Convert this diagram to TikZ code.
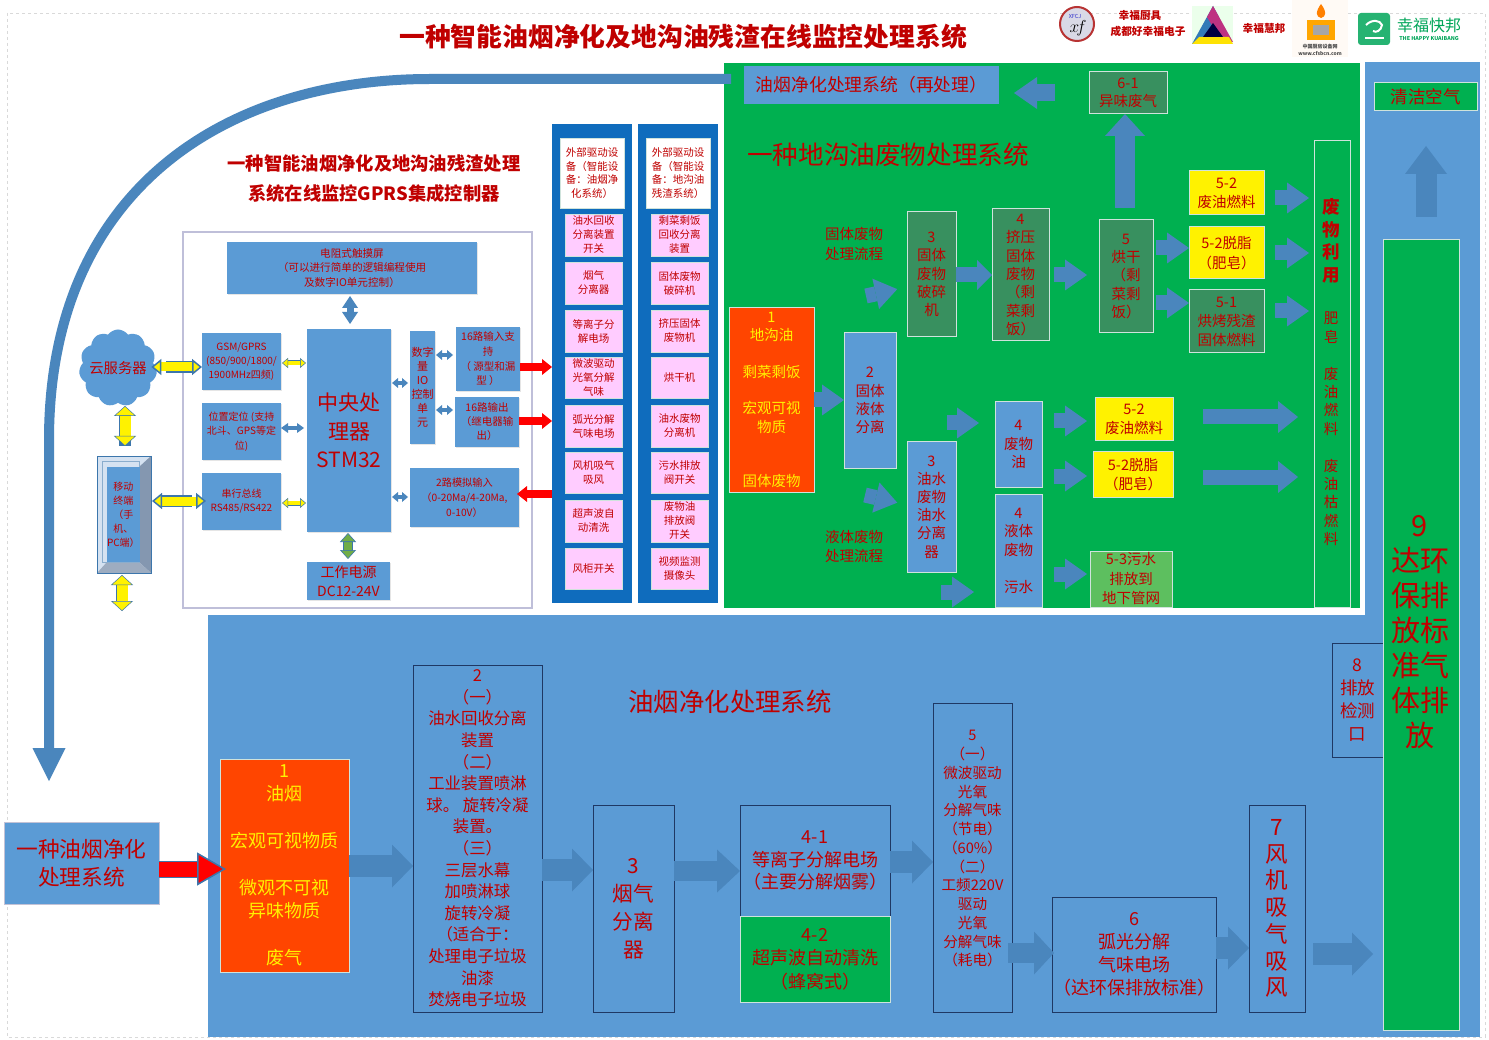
\documentclass[tikz,border=0pt]{standalone}
\usepackage{fontspec}
\setmainfont{Noto Sans CJK SC}
\usetikzlibrary{arrows.meta,shapes.symbols,shadows}
\definecolor{txtred}{HTML}{C00000}
\definecolor{panelblue}{HTML}{5B9BD5}
\definecolor{panelgreen}{HTML}{00B050}
\definecolor{darkgreen}{HTML}{38905F}
\definecolor{softgreen}{HTML}{5DBF5F}
\definecolor{orangered}{HTML}{FF4500}
\definecolor{navyline}{HTML}{1F3864}
\definecolor{paleline}{HTML}{CFE3DC}
\definecolor{arrowblue}{HTML}{4A86BD}
\definecolor{frameblue}{HTML}{3C76AC}
\definecolor{columnblue}{HTML}{0F6CBD}
\definecolor{pinkfill}{HTML}{FFCCFF}
\definecolor{bevellight}{HTML}{D5E2F1}
\definecolor{beveldark}{HTML}{8497B0}
\definecolor{powergreen}{HTML}{70AD47}
\tikzset{
  fs/.style 2 args={font=\fontsize{#1}{#2}\selectfont},
  fsb/.style 2 args={font=\fontsize{#1}{#2}\selectfont\bfseries},
  wh/.style 2 args={minimum width=#1,minimum height=#2},
  txt/.style={inner sep=0pt,outer sep=0pt,align=center,text=txtred},
  box/.style={txt,anchor=north west},
  panelbox/.style={box,fill=panelblue},
  ctrlbox/.style={box,fill=panelblue,drop shadow={shadow xshift=1pt,shadow yshift=-1pt,opacity=.2,fill=gray}},
  navybox/.style={box,draw=navyline,line width=1pt},
  darkbox/.style={box,fill=darkgreen,draw=paleline,line width=1pt},
  bluepalebox/.style={box,fill=panelblue,draw=paleline,line width=1pt},
  yellowbox/.style={box,fill=yellow,draw=paleline,line width=1pt},
  orangebox/.style={box,fill=orangered,draw=paleline,line width=1pt,text=yellow},
  pinkbox/.style={box,fill=pinkfill,draw=paleline,line width=.5pt,fs={10.5}{14}},
  whitebox/.style={box,fill=white,draw=paleline,line width=.5pt,fs={10.5}{13.5}},
  barrow/.style n args={3}{draw=arrowblue,line width=#1,-{Triangle[length=#3pt,width=#2pt,line width=0pt]}},
  dbarrow/.style n args={3}{draw=arrowblue,line width=#1,{Triangle[length=#3pt,width=#2pt,line width=0pt]}-{Triangle[length=#3pt,width=#2pt,line width=0pt]}},
  hollow/.style n args={5}{draw=#1,line width=#2,
    {Triangle[length=#4pt,width=#3pt,fill=#1,color=frameblue,line width=#5pt]}-{Triangle[length=#4pt,width=#3pt,fill=#1,color=frameblue,line width=#5pt]},
    preaction={draw=frameblue,line width=#2+2*#5,-,shorten >=#4pt,shorten <=#4pt}},
  bigarrow/.style={barrow={22}{43}{21}},
  greenarrow/.style={barrow={15}{31}{22}},
}
\begin{document}
\begin{tikzpicture}[x=1pt,y=-1pt]
  \useasboundingbox (0,0) rectangle (1489,1040);
  \fill[white] (0,0) rectangle (1489,1040);
  \draw[gray!30,dashed] (7,13) rectangle (1485,1037);

  \node[panelbox,wh={1272}{422}] (bottompanel) at (208,615) {};
  \node[panelbox,wh={115}{553}] (rightpanel) at (1365,62) {};
  \node[box,fill=panelgreen,wh={636}{545}] (greenpanel) at (724,63) {};
  \node[box,draw=blue!25!gray!40,line width=1.5pt,wh={349}{376}] (ctrlframe) at (183,232) {};
  \node[box,fill=columnblue,wh={80}{479}] (columnA) at (552,124) {};
  \node[box,fill=columnblue,wh={80}{479}] (columnB) at (638,124) {};

  \node[txt,fsb={25.8}{30}] (titlemain) at (683,37) {一种智能油烟净化及地沟油残渣在线监控处理系统};
  \node[txt,fsb={18.3}{30}] (titlectrl) at (374,179) {一种智能油烟净化及地沟油残渣处理\\系统在线监控GPRS集成控制器};

  \node[txt,fsb={10.7}{16}] (brandA) at (1140,15) {幸福厨具};
  \node[txt,fsb={10.7}{16}] (brandAb) at (1148,31) {成都好幸福电子};
  \node[txt,fsb={10.7}{16}] (brandB) at (1264,29) {幸福慧邦};
  \draw[red!65!black!80,line width=2pt,fill=blue!20!gray!25] (1077,24) circle (17);
  \node[txt,fs={5.5}{6},text=blue!60!gray] (logoXF) at (1075,16) {XFCJ};
  \node[txt,text=black,fs={16}{18}] (logoXFb) at (1078,28) {$x\!f$};
  \fill[green!8!white] (1192,6) rectangle (1233,44);
  \fill[teal!70!blue!80] (1192,44) -- (1213,6) -- (1219,17) -- (1204,44) -- cycle;
  \fill[magenta!75!black] (1213,6) -- (1233,42) -- (1222,42) -- (1207,17) -- cycle;
  \fill[yellow!85!orange] (1192,44) -- (1233,44) -- (1229,37) -- (1199,37) -- cycle;
  \fill[black!75!blue] (1213,23) -- (1223,37) -- (1203,37) -- cycle;
  \fill[orange!4!white] (1292,0) rectangle (1348,57);
  \fill[orange!70!yellow] (1307,20) rectangle (1335,40);
  \fill[gray!70] (1313,25) rectangle (1329,35);
  \fill[orange] (1321,4) .. controls (1315,12) and (1316,17) .. (1321,18) .. controls (1326,17) and (1327,12) .. (1321,4) -- cycle;
  \node[txt,fsb={5}{6.5},text=black!70] (logoCF) at (1320,50) {中国厨房设备网\\www.cfsbcn.com};
  \fill[teal!70!green!85!white,rounded corners=3pt] (1358,13) rectangle (1390,45);
  \draw[white,line width=2pt] (1366,25) .. controls (1372,19) and (1380,20) .. (1382,25) .. controls (1381,31) and (1376,33) .. (1373,31);
  \draw[white,line width=1.2pt] (1365,38) -- (1384,38);
  \node[txt,fs={16}{18},text=teal!70!green] (brandC) at (1429,25) {幸福快邦};
  \node[txt,fsb={5.3}{6},text=teal!70!green] (brandCen) at (1429,39) {THE HAPPY KUAIBANG};

  \node[ctrlbox,wh={250}{52},fs={10.6}{14.5}] (touch) at (227,242) {电阻式触摸屏\\（可以进行简单的逻辑编程使用\\及数字IO单元控制）};
  \node[ctrlbox,wh={84}{203},fs={21}{28.5}] (cpu) at (307,329) {中央处\\理器\\STM32};
  \node[ctrlbox,wh={79}{57},fs={10}{14}] (gsm) at (202,333) {GSM/GPRS\\(850/900/1800/\\1900MHz四频)};
  \node[ctrlbox,wh={79}{57},fs={10}{14.5}] (locate) at (202,403) {位置定位 (支持\\北斗、GPS等定\\位)};
  \node[ctrlbox,wh={79}{57},fs={10}{14}] (serial) at (202,473) {串行总线\\RS485/RS422};
  \node[ctrlbox,wh={25}{113},fs={11}{14}] (dio) at (410,331) {数字\\量\\IO\\控制\\单\\元};
  \node[ctrlbox,wh={64}{64},fs={10.5}{14.7}] (dinput) at (456,327) {16路输入支\\持\\（ 源型和漏\\型 ）};
  \node[ctrlbox,wh={64}{50},fs={10.5}{14}] (doutput) at (455,397) {16路输出\\（继电器输\\出）};
  \node[ctrlbox,wh={109}{59},fs={10.2}{15}] (analog) at (410,468) {2路模拟输入\\（0-20Ma/4-20Ma,\\0-10V）};
  \node[ctrlbox,wh={83}{38},fs={14}{19}] (power) at (307,562) {工作电源\\DC12-24V};
  \node[cloud,cloud puffs=11,cloud puff arc=110,aspect=1,fill=panelblue,inner sep=0pt,minimum width=78,minimum height=77] (cloudsrv) at (118,368) {};
  \node[txt,fs={14.3}{16}] (cloudtxt) at (118,368) {云服务器};
  \fill[bevellight] (97,456) rectangle (151,573);
  \fill[beveldark] (151,456) -- (139,467) -- (139,562) -- (151,573) -- cycle;
  \fill[beveldark!80] (97,573) -- (107,562) -- (139,562) -- (151,573) -- cycle;
  \node[box,draw=frameblue,line width=.8pt,wh={54}{117}] (mobileframe) at (97,456) {};
  \draw[frameblue!60,line width=.5pt] (102,461) rectangle (139,562);
  \node[box,fill=panelblue,wh={32}{95},fs={10}{14}] (mobile) at (107,467) {移动\\终端\\（手\\机、\\PC端）};

  \foreach \i/\y/\h/\labA/\labB in {1/214/42/{油水回收\\分离装置\\开关}/{剩菜剩饭\\回收分离\\装置},
    2/262/42/{烟气\\分离器}/{固体废物\\破碎机},
    3/310/42/{等离子分\\解电场}/{挤压固体\\废物机},
    4/357/41/{微波驱动\\光氧分解\\气味}/{烘干机},
    5/405/42/{弧光分解\\气味电场}/{油水废物\\分离机},
    6/452/41/{风机吸气\\吸风}/{污水排放\\阀开关},
    7/500/42/{超声波自\\动清洗}/{废物油\\排放阀\\开关},
    8/548/41/{风柜开关}/{视频监测\\摄像头}}
  {
    \node[pinkbox,wh={57}{\h}] (devA\i) at (565,\y) {\labA};
    \node[pinkbox,wh={57}{\h}] (devB\i) at (651,\y) {\labB};
  }
  \node[whitebox,wh={64}{70}] (extA) at (560,138) {外部驱动设\\备（智能设\\备：油烟净\\化系统）};
  \node[whitebox,wh={64}{70}] (extB) at (646,138) {外部驱动设\\备（智能设\\备：地沟油\\残渣系统）};

  \node[box,fill=panelblue,wh={255}{38},fs={17.8}{20}] (reprocess) at (744,66) {油烟净化处理系统（再处理）};
  \node[txt,fs={25.6}{30}] (titleground) at (888,155) {一种地沟油废物处理系统};
  \node[darkbox,wh={78}{42},fs={14.5}{18}] (gas) at (1089,72) {6-1\\异味废气};
  \node[txt,fs={14.5}{20}] (flowsolid) at (854,244) {固体废物\\处理流程};
  \node[txt,fs={14.5}{19}] (flowliquid) at (854,546) {液体废物\\处理流程};
  \node[darkbox,wh={49}{125},fs={14.5}{18.3}] (crush) at (907,212) {3\\固体\\废物\\破碎\\机};
  \node[darkbox,wh={57}{132},fs={14.5}{18.3}] (press) at (992,209) {4\\挤压\\固体\\废物\\（剩\\菜剩\\饭）};
  \node[darkbox,wh={54}{113},fs={14.5}{18.3}] (dryer) at (1099,220) {5\\烘干\\（剩\\菜剩\\饭）};
  \node[yellowbox,wh={75}{44},fs={14.5}{19}] (fuelA) at (1189,171) {5-2\\废油燃料};
  \node[yellowbox,wh={75}{52},fs={14.5}{20}] (soapA) at (1189,227) {5-2脱脂\\（肥皂）};
  \node[darkbox,wh={75}{63},fs={14.5}{19}] (solidfuel) at (1189,290) {5-1\\烘烤残渣\\固体燃料};
  \node[box,draw=paleline,line width=1pt,wh={36}{466}] (reuse) at (1314,141) {};
  \node[txt,fsb={17.5}{22.5}] (reusetitle) at (1331,241) {废\\物\\利\\用};
  \node[txt,fs={14.5}{18.4}] (reusetext) at (1331,429) {肥\\皂\\~\\废\\油\\燃\\料\\~\\废\\油\\枯\\燃\\料};
  \node[orangebox,wh={85}{184},fs={14.5}{18.3}] (groundoil) at (729,308) {1\\地沟油\\~\\剩菜剩饭\\~\\宏观可视\\物质\\~\\~\\固体废物};
  \node[bluepalebox,wh={52}{135},fs={14.5}{18.3}] (separate) at (844,333) {2\\固体\\液体\\分离};
  \node[bluepalebox,wh={49}{130},fs={14.5}{18.2}] (oilwater) at (907,442) {3\\油水\\废物\\油水\\分离\\器};
  \node[bluepalebox,wh={47}{85},fs={14.5}{18.3}] (oilbox) at (995,402) {4\\废物\\油};
  \node[bluepalebox,wh={47}{113},fs={14.5}{18.5}] (liquid) at (995,494) {4\\液体\\废物\\~\\污水};
  \node[yellowbox,wh={78}{43},fs={14.5}{19}] (fuelB) at (1095,398) {5-2\\废油燃料};
  \node[yellowbox,wh={80}{45},fs={14.5}{19}] (soapB) at (1093,452) {5-2脱脂\\（肥皂）};
  \node[box,fill=softgreen,draw=paleline,line width=1pt,wh={82}{56},fs={14.5}{19.5}] (sewer) at (1090,551) {5-3污水\\排放到\\地下管网};

  \node[box,fill=panelgreen,draw=paleline,line width=1pt,wh={103}{28},fs={17.5}{20}] (cleanair) at (1374,83) {清洁空气};
  \node[box,draw=navyline,line width=1pt,wh={51}{114},fs={17.5}{23}] (detect) at (1332,643) {8\\排放\\检测\\口};
  \node[box,fill=panelgreen,draw=paleline,line width=1pt,wh={76}{790}] (green9) at (1383,240) {};
  \node[txt,fs={29}{35}] (green9txt) at (1420,632) {9\\达环\\保排\\放标\\准气\\体排\\放};

  \node[txt,fs={25.4}{30}] (titlefume) at (730,702) {油烟净化处理系统};
  \node[box,fill=panelblue,draw=blue!20!gray!40,wh={155}{82},fs={21.7}{28}] (purifier) at (4,822) {一种油烟净化\\处理系统};
  \node[orangebox,wh={129}{213},fs={18}{23.4}] (fume) at (220,759) {1\\油烟\\~\\宏观可视物质\\~\\微观不可视\\异味物质\\~\\废气};
  \node[navybox,wh={129}{347},fs={16.4}{21.6}] (stepA) at (413,665) {2\\（一）\\油水回收分离\\装置\\（二）\\工业装置喷淋\\球。 旋转冷凝\\装置。\\（三）\\三层水幕\\加喷淋球\\旋转冷凝\\（适合于：\\处理电子垃圾\\油漆\\焚烧电子垃圾};
  \node[navybox,wh={81}{207},fs={20.7}{28}] (stepB) at (593,805) {3\\烟气\\分离\\器};
  \node[navybox,wh={150}{111},fs={18}{22.5}] (stepC) at (740,805) {4-1\\等离子分解电场\\（主要分解烟雾）};
  \node[box,fill=panelgreen,draw=paleline,line width=1pt,wh={150}{86},fs={18}{23.5}] (stepD) at (740,916) {4-2\\超声波自动清洗\\（蜂窝式）};
  \node[navybox,wh={79}{309},fs={14.6}{18.75}] (stepE) at (933,703) {5\\（一）\\微波驱动\\光氧\\分解气味\\（节电）\\（60\%）\\（二）\\工频220V\\驱动\\光氧\\分解气味\\（耗电）\\~};
  \node[navybox,wh={164}{115},fs={18}{23}] (stepF) at (1052,897) {6\\弧光分解\\气味电场\\（达环保排放标准）};
  \node[navybox,wh={56}{207},fs={22.5}{26.7}] (stepG) at (1249,805) {7\\风\\机\\吸\\气\\吸\\风};

  \coordinate (curvestart) at (731,79);
  \draw[barrow={10}{33}{33},shorten >=41] (curvestart) -- (430,79) .. controls (225,79) and (49,190) .. (49,440) -- (49,0 |- purifier.north);
  \draw[draw=red,line width=15,shorten >=-6,-{Triangle[length=29pt,width=33pt,fill=red,color=frameblue,line width=1.5pt]},preaction={draw=frameblue,line width=17,-,shorten >=20pt}] (purifier.east |- 0,869) -- (fume.west |- 0,869);
  \draw[bigarrow] (fume.east |- 0,866) -- (stepA.west |- 0,866);
  \draw[bigarrow] (stepA.east |- 0,870) -- (stepB.west |- 0,870);
  \draw[barrow={20}{43}{23}] (stepB.east |- 0,871) -- (stepC.west |- 0,871);
  \draw[bigarrow] (stepC.east |- 0,862) -- (stepE.west |- 0,862);
  \draw[barrow={20}{43}{20},shorten <=-4,shorten >=-2] (stepE.east |- 0,953) -- (stepF.west |- 0,953);
  \draw[bigarrow] (stepF.east |- 0,948) -- (stepG.west |- 0,948);
  \draw[bigarrow,shorten <=8,shorten >=10] (stepG.east |- 0,954) -- (green9.west |- 0,954);
  \draw[barrow={21}{42}{28},shorten <=23,shorten >=35] (green9.north -| 1426,0) -- (cleanair.south -| 1426,0);

  \draw[barrow={17}{32}{23},shorten <=34,shorten >=15] (gas.west |- 0,93) -- (reprocess.east |- 0,93);
  \draw[barrow={20}{40}{22},shorten <=12] (dryer.north -| 1125,0) -- (gas.south -| 1125,0);
  \coordinate (solidtail) at (866,296);
  \coordinate (liquidtail) at (865,495);
  \coordinate (oiltail) at (947,423);
  \coordinate (watertail) at (941,592);
  \coordinate (mobiletail) at (122,611);
  \draw[greenarrow,shorten >=10] (solidtail) -- (crush.west |- 0,287);
  \draw[greenarrow,shorten >=10] (liquidtail) -- (oilwater.west |- 0,505);
  \draw[barrow={15}{30}{15}] (crush.east |- 0,275) -- (press.west |- 0,275);
  \draw[greenarrow,shorten <=5,shorten >=12] (press.east |- 0,275) -- (dryer.west |- 0,275);
  \draw[greenarrow,shorten <=3] (dryer.east |- 0,248) -- (soapA.west |- 0,248);
  \draw[greenarrow,shorten <=3] (dryer.east |- 0,303) -- (solidfuel.west |- 0,303);
  \draw[greenarrow,shorten <=11,shorten >=5] (fuelA.east |- 0,198) -- (reuse.west |- 0,198);
  \draw[greenarrow,shorten <=11,shorten >=5] (soapA.east |- 0,253) -- (reuse.west |- 0,253);
  \draw[greenarrow,shorten <=11,shorten >=5] (solidfuel.east |- 0,311) -- (reuse.west |- 0,311);
  \draw[greenarrow] (groundoil.east |- 0,400) -- (separate.west |- 0,400);
  \draw[greenarrow,shorten >=16] (oiltail) -- (oilbox.west |- 0,423);
  \draw[greenarrow,shorten >=21] (watertail) -- (liquid.west |- 0,592);
  \draw[greenarrow,shorten <=12,shorten >=8] (oilbox.east |- 0,421) -- (fuelB.west |- 0,421);
  \draw[greenarrow,shorten <=12,shorten >=6] (oilbox.east |- 0,476) -- (soapB.west |- 0,476);
  \draw[greenarrow,shorten <=12,shorten >=3] (liquid.east |- 0,574) -- (sewer.west |- 0,574);
  \draw[barrow={15}{32}{20},shorten <=30,shorten >=16] (fuelB.east |- 0,417) -- (reuse.west |- 0,417);
  \draw[barrow={15}{32}{20},shorten <=30,shorten >=16] (soapB.east |- 0,477) -- (reuse.west |- 0,477);

  \draw[dbarrow={7}{16}{12},shorten <=2,shorten >=5] (touch.south -| 350,0) -- (cpu.north -| 350,0);
  \draw[hollow={yellow}{9}{16}{10}{1.5},shorten <=-5] (cloudsrv.east |- 0,367) -- (gsm.west |- 0,367);
  \draw[hollow={yellow}{9}{16}{10}{1.5},shorten <=1,shorten >=-4] (mobileframe.east |- 0,501) -- (serial.west |- 0,501);
  \draw[hollow={yellow}{11}{22}{10}{.5},shorten <=3,shorten >=10] (cloudsrv.south -| 125,0) -- (mobileframe.north -| 125,0);
  \draw[hollow={yellow}{11}{22}{10}{.5},shorten <=2] (mobileframe.south -| 122,0) -- (mobiletail);
  \draw[hollow={yellow}{4}{10}{6}{.5},shorten <=1,shorten >=1] (gsm.east |- 0,363) -- (cpu.west |- 0,363);
  \draw[hollow={yellow}{4}{10}{6}{.5},shorten <=1,shorten >=1] (serial.east |- 0,503) -- (cpu.west |- 0,503);
  \draw[dbarrow={4}{10}{7},shorten >=3] (locate.east |- 0,428) -- (cpu.west |- 0,428);
  \draw[dbarrow={4}{10}{6},shorten <=1,shorten >=2] (cpu.east |- 0,383) -- (dio.west |- 0,383);
  \draw[dbarrow={4}{10}{6},shorten <=1,shorten >=2] (cpu.east |- 0,497) -- (analog.west |- 0,497);
  \draw[dbarrow={4}{10}{6},shorten <=1,shorten >=3] (dio.east |- 0,355) -- (dinput.west |- 0,355);
  \draw[dbarrow={4}{10}{6},shorten <=1,shorten >=2] (dio.east |- 0,410) -- (doutput.west |- 0,410);
  \draw[hollow={powergreen}{8}{16}{9}{.6},shorten <=1,shorten >=3] (cpu.south -| 348,0) -- (power.north -| 348,0);
  \draw[barrow={8}{16}{10},draw=red] (dinput.east |- 0,367) -- (columnA.west |- 0,367);
  \draw[barrow={8}{16}{10},draw=red] (doutput.east |- 0,421) -- (columnA.west |- 0,421);
  \draw[barrow={8}{16}{10},draw=red,shorten >=-2] (columnA.west |- 0,494) -- (analog.east |- 0,494);
\end{tikzpicture}
\end{document}
